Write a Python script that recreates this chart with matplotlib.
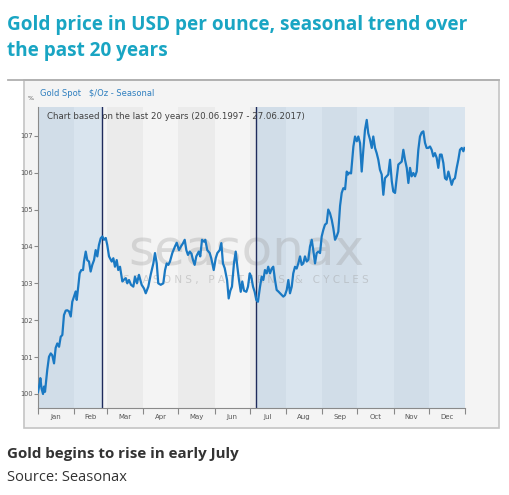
import matplotlib
matplotlib.use("Agg")
import matplotlib.pyplot as plt
from matplotlib.patches import Rectangle
from matplotlib.lines import Line2D

# ---------------- data ----------------
month_labels = ["Jan", "Feb", "Mar", "Apr", "May", "Jun",
                "Jul", "Aug", "Sep", "Oct", "Nov", "Dec"]
month_starts = [0, 31, 59, 90, 120, 151, 181, 212, 243, 273, 304, 334, 365]
highlight_ranges = [(0, 55), (186, 365)]   # seasonal windows (day of year)
marker_days = [55, 186]

days = [0, 1.5, 2, 3, 4.3, 5.1, 6, 7.9, 9.4, 10.9, 12.2, 13.7, 15.1, 16.5, 18,
        19.4, 20.8, 22.2, 23.7, 25, 26.5, 28, 29.3, 30.8, 32.2, 33.1, 34.4,
        35.6, 37, 38.5, 39.3, 40.8, 42.1, 43.6, 45, 46.4, 47.9, 49.3, 50.7,
        52.1, 53.6, 55, 56.4, 57.9, 59.2, 60.7, 63, 64.4, 65.8, 67.3, 68.6,
        70.1, 72.1, 73.5, 75, 76.3, 77.8, 79.5, 81.5, 82.9, 84.6, 86.3, 88.6,
        90.6, 92.1, 94.3, 96.3, 98.6, 100, 101.5, 102.8, 104.9, 107.1, 108.6,
        110, 111.4, 112.8, 114.8, 117.1, 118.6, 120.5, 122.2, 124, 125.4,
        126.8, 128.2, 129.7, 131.2, 132.5, 133.9, 135.3, 137.4, 138.7, 140.2,
        141.9, 143, 144.7, 146.8, 148.1, 150.2, 151.9, 153.3, 155.3, 156.7,
        158.1, 159.6, 161.6, 163, 164.4, 165.8, 167.5, 169, 170.4, 171.8,
        173.3, 174.6, 176.1, 178.1, 179.5, 181, 182.3, 183.8, 185.2, 186.6,
        188, 189.8, 191.2, 192.6, 194, 195.5, 196.8, 198.3, 199.8, 201.1,
        202.6, 204, 205.4, 206.9, 208.3, 209.7, 211.1, 212.6, 214, 215.4,
        216.9, 218.2, 219.7, 221.1, 222.5, 224, 225.4, 226.8, 228.2, 229.7,
        231.1, 232.5, 234, 235.3, 236.8, 238.2, 239.6, 241.1, 242.5, 243.9,
        245.3, 246.8, 248.1, 249.6, 251.1, 252.4, 253.9, 255.3, 256.7, 258.2,
        259.6, 261, 262.5, 263.9, 265, 265.9, 267.6, 269.6, 271, 272.5, 273.8,
        275.3, 276.7, 278.1, 279.5, 281, 282.3, 283.8, 285.3, 286.6, 288.1,
        289.5, 290.9, 292.3, 293.8, 295.2, 296.6, 298, 299.4, 300.9, 302.4,
        303.7, 305.2, 306.6, 308, 309.4, 310.9, 312.3, 313.7, 315.2, 316.6,
        318, 319.4, 320.8, 322.3, 323.7, 325.1, 326.5, 328, 329.4, 330.8,
        332.2, 333.6, 335.1, 336.5, 337.9, 339.3, 340.8, 342.2, 343.6, 345,
        346.5, 347.9, 349.3, 350.8, 352.2, 353.6, 355, 356.4, 357.9, 359.3,
        360.7, 362.2, 363.6, 364.5]
values = [100.05, 100.3, 100.43, 100.15, 100.0, 100.2, 100.06, 100.65, 101.01,
          101.1, 101.05, 100.83, 101.25, 101.37, 101.28, 101.55, 101.6, 102.14,
          102.26, 102.27, 102.24, 102.1, 102.5, 102.64, 102.78, 102.55, 102.91,
          103.27, 103.36, 103.36, 103.59, 103.86, 103.63, 103.59, 103.32,
          103.5, 103.63, 103.9, 103.73, 104.04, 104.22, 104.27, 104.18, 104.23,
          104.04, 103.73, 103.59, 103.68, 103.45, 103.63, 103.36, 103.45,
          103.05, 103.1, 103.14, 103.0, 103.09, 102.96, 102.91, 103.18, 103.0,
          103.23, 102.96, 102.86, 102.73, 102.91, 103.23, 103.54, 103.82,
          103.54, 103.0, 102.96, 103.0, 103.36, 103.54, 103.5, 103.59, 103.82,
          104.0, 104.1, 103.9, 104.0, 104.09, 104.18, 103.9, 103.77, 103.86,
          103.8, 103.63, 103.5, 103.73, 103.86, 103.73, 104.18, 104.13, 104.18,
          103.9, 103.82, 103.68, 103.36, 103.68, 103.82, 103.9, 104.09, 103.54,
          103.41, 103.09, 102.59, 102.8, 102.91, 103.54, 103.86, 103.45,
          103.09, 102.77, 103.05, 102.8, 102.77, 102.91, 103.27, 103.18, 102.91,
          102.77, 102.55, 102.5, 102.91, 103.18, 103.09, 103.36, 103.27, 103.45,
          103.27, 103.4, 103.45, 103.09, 102.82, 102.78, 102.73, 102.68,
          102.64, 102.68, 102.82, 103.09, 102.73, 102.91, 103.27, 103.45,
          103.4, 103.54, 103.73, 103.5, 103.54, 103.73, 103.59, 103.64, 104.0,
          104.18, 103.9, 103.54, 103.82, 103.86, 103.82, 104.27, 104.45,
          104.59, 104.63, 105.0, 104.9, 104.72, 104.5, 104.18, 104.27, 104.4,
          105.1, 105.45, 105.58, 105.55, 106.03, 105.95, 106.0, 105.98, 106.71,
          106.98, 106.85, 106.98, 106.8, 106.03, 106.62, 107.16, 107.43,
          107.07, 106.9, 106.67, 106.98, 106.67, 106.53, 106.35, 106.08,
          105.95, 105.4, 105.85, 105.9, 105.95, 106.35, 105.77, 105.49, 105.45,
          105.85, 106.22, 106.26, 106.3, 106.62, 106.35, 106.13, 105.72,
          106.13, 105.9, 105.99, 105.9, 106.03, 106.62, 106.98, 107.09, 107.12,
          106.81, 106.67, 106.67, 106.71, 106.62, 106.44, 106.53, 106.4,
          106.13, 106.49, 106.49, 106.26, 105.85, 105.81, 106.03, 105.85,
          105.67, 105.81, 105.85, 106.13, 106.35, 106.62, 106.67, 106.58,
          106.67]
y_ticks = [100, 101, 102, 103, 104, 105, 106, 107]

# ---------------- figure ----------------
W, H = 509, 495
fig = plt.figure(figsize=(W / 100, H / 100), dpi=100)
fig.patch.set_facecolor("white")

def fx(px):
    return px / W

def fy(py):
    return 1 - py / H

# chart frame
frame = Rectangle((fx(24), fy(428)), fx(499) - fx(24), fy(80) - fy(428),
                  transform=fig.transFigure, facecolor="#f4f4f4",
                  edgecolor="#c4c4c4", linewidth=1.2, zorder=-10)
fig.add_artist(frame)
fig.add_artist(Line2D([fx(8), fx(499)], [fy(80), fy(80)],
                      transform=fig.transFigure, color="#b0b0b0", lw=1.3,
                      zorder=-5))

# titles
title_kw = dict(family="Open Sans", weight="bold", color="#19a5c3",
                fontsize=13.7, va="baseline", ha="left")
fig.text(fx(7), fy(30), "Gold price in USD per ounce, seasonal trend over", **title_kw)
fig.text(fx(7), fy(56), "the past 20 years", **title_kw)

fig.text(fx(7), fy(458), "Gold begins to rise in early July", family="Open Sans",
         weight="bold", color="#333333", fontsize=10.9, va="baseline")
fig.text(fx(7), fy(481), "Source: Seasonax", family="Open Sans",
         color="#333333", fontsize=10.5, va="baseline")

# header of chart
fig.text(fx(28), fy(99), "%", fontsize=4.5, color="#555555", va="center",
         family="DejaVu Sans")
fig.text(fx(40), fy(94), "Gold Spot   $/Oz - Seasonal", fontsize=6,
         color="#2f7fbf", va="center", family="DejaVu Sans")

# axes
ax = fig.add_axes([fx(38), fy(408), fx(465) - fx(38), fy(107) - fy(408)])
ax.set_zorder(1)
ax.set_facecolor("#f4f4f4")
ax.set_xlim(month_starts[0], month_starts[-1])
ax.set_ylim(99.62, 107.78)

blue_dark, blue_light = "#d1dde8", "#d9e4ee"
gray_dark, gray_light = "#ebebeb", "#f4f4f4"

def in_highlight(d):
    return any(a <= d < b for a, b in highlight_ranges)

cuts = sorted(set(month_starts + [b for r in highlight_ranges for b in r]))
for a, b in zip(cuts[:-1], cuts[1:]):
    mid = 0.5 * (a + b)
    mi = max(i for i, s in enumerate(month_starts[:-1]) if s <= mid)
    dark = (mi % 2 == 0)
    if in_highlight(mid):
        c = blue_dark if dark else blue_light
    else:
        c = gray_dark if dark else gray_light
    ax.axvspan(a, b, color=c, lw=0, zorder=0)

# watermark
ax.text(0.487, 0.52, "seasonax", transform=ax.transAxes, ha="center",
        va="center", fontsize=36, color="#9a9a9a", alpha=0.3,
        family="DejaVu Sans", zorder=1)
ax.text(0.487, 0.425, "S E A S O N S ,   P A T T E R N S   &   C Y C L E S",
        transform=ax.transAxes, ha="center", va="center", fontsize=7.5,
        color="#9a9a9a", alpha=0.4, family="DejaVu Sans", zorder=1)

for d in marker_days:
    ax.axvline(d, color="#1f2b5c", lw=1.0, zorder=2)

ax.plot(days, values, color="#1a79c3", lw=1.6, zorder=3)

ax.text(0.02, 0.985, "Chart based on the last 20 years (20.06.1997 - 27.06.2017)",
        transform=ax.transAxes, ha="left", va="top", fontsize=6.2,
        color="#404040", family="DejaVu Sans", zorder=4)

ax.set_yticks(y_ticks)
ax.set_yticklabels([str(v) for v in y_ticks])
ax.set_xticks(month_starts)
ax.set_xticklabels([])
centers = [0.5 * (a + b) for a, b in zip(month_starts[:-1], month_starts[1:])]
ax.set_xticks(centers, minor=True)
ax.set_xticklabels(month_labels, minor=True)
ax.tick_params(axis="x", which="major", length=4, color="#888888", width=0.8)
ax.tick_params(axis="x", which="minor", length=0, labelsize=5, labelcolor="#555555",
               pad=4)
ax.tick_params(axis="y", length=3, color="#888888", width=0.8, labelsize=4.8,
               labelcolor="#555555", pad=1)
for lab in ax.get_xticklabels(minor=True) + ax.get_yticklabels():
    lab.set_family("DejaVu Sans")

for s in ["top", "right"]:
    ax.spines[s].set_visible(False)
for s in ["left", "bottom"]:
    ax.spines[s].set_color("#8a8a8a")
    ax.spines[s].set_linewidth(0.8)

fig.savefig("out.png", dpi=100)
